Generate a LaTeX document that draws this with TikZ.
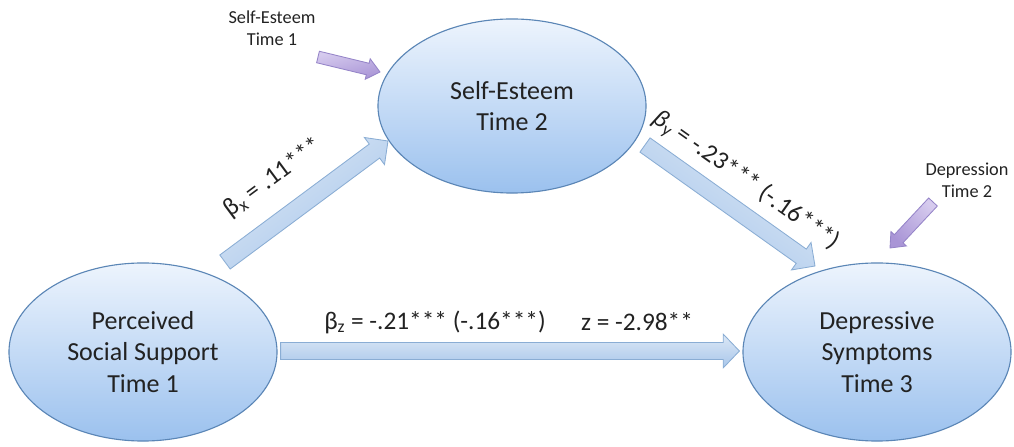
\documentclass[tikz,border=0pt]{standalone}
\usepackage{fontspec}
\setmainfont{Carlito}
\usetikzlibrary{calc,shapes.geometric}
\definecolor{ellline}{HTML}{5B86B6}
\definecolor{elltop}{HTML}{EDF4FD}
\definecolor{ellbot}{HTML}{9BC1EE}
\definecolor{arrline}{HTML}{8AADD4}
\definecolor{arrtop}{HTML}{DCE8F6}
\definecolor{arrbot}{HTML}{A8C6EA}
\definecolor{purline}{HTML}{9584C8}
\definecolor{purtop}{HTML}{D6CBEE}
\definecolor{purbot}{HTML}{A995D6}
\definecolor{txt}{HTML}{222222}
% block arrow: [style]{from}{to}{shaft half width}{head half width}{head length}
\newcommand{\blockarrow}[6][]{%
  \coordinate (hb) at ($(#3)!#6!(#2)$);
  \draw[#1] ($(#2)!#4!90:(#3)$) -- ($(hb)!#4!90:(#3)$) -- ($(hb)!#5!90:(#3)$) -- (#3)
    -- ($(hb)!#5!-90:(#3)$) -- ($(hb)!#4!-90:(#3)$) -- ($(#2)!#4!-90:(#3)$) -- cycle;
}
\begin{document}
\begin{tikzpicture}[x=0.025cm,y=0.025cm,
  ell/.style={ellipse,draw=ellline,line width=0.8pt,top color=elltop,bottom color=ellbot,
    minimum width=6.7cm,minimum height=4.45cm,align=center,text=txt,
    font=\fontsize{18.5}{22.5}\selectfont},
  lbl/.style={text=txt,font=\fontsize{18}{21}\selectfont},
  note/.style={align=center,text=txt,font=\fontsize{13}{15.6}\selectfont},
  bluearr/.style={draw=arrline,line width=0.6pt,top color=arrtop,bottom color=arrbot},
  purarr/.style={draw=purline,line width=0.6pt,top color=purtop,bottom color=purbot}]
\useasboundingbox (0,0) rectangle (1014,447);
\node[ell,minimum height=4.35cm] (se) at (512,341) {Self-Esteem\\Time 2};
\node[ell] (pss) at (143,95) {Perceived\\Social Support\\Time 1};
\node[ell] (ds) at (877,95) {Depressive\\Symptoms\\Time 3};
\node[note] (se1) at (272,419) {Self-Esteem\\Time 1};
\node[note] (dt2) at (967,267) {Depression\\Time 2};

\coordinate (xa) at ($(pss)+(82,90)$);
\coordinate (xb) at ($(se)+(-124,-35)$);
\coordinate (ya) at ($(se)+(133,-39)$);
\coordinate (yb) at ($(ds)+(-62,86)$);
\coordinate (za) at ($(pss.east)+(3,1)$);
\coordinate (zb) at ($(ds.west)+(-3,1)$);
\coordinate (pa) at ($(se1)+(46,-29)$);
\coordinate (pb) at ($(se)+(-132,34)$);
\coordinate (qa) at ($(dt2)+(-34,-22)$);
\coordinate (qb) at ($(ds)+(13,104)$);

\blockarrow[bluearr,shading angle=36.6]{xa}{xb}{6.2pt}{12pt}{12pt}
\blockarrow[bluearr,shading angle=-35.4]{ya}{yb}{6.2pt}{12pt}{12pt}
\blockarrow[bluearr]{za}{zb}{6pt}{12pt}{11.5pt}
\blockarrow[purarr,shading angle=14]{pa}{pb}{4.2pt}{7.5pt}{9pt}
\blockarrow[purarr,shading angle=-47]{qa}{qb}{4.2pt}{7.5pt}{9pt}

\node[lbl,rotate=36.6] (bxl) at (273,269) {β\textsubscript{x} = .11***};
\node[lbl,rotate=-35.4] (byl) at (746,266) {\textit{β}\textsubscript{y} = -.23*** (-.16***)};
\node[lbl] (bzl) at (435,125) {β\textsubscript{z} = -.21*** (-.16***)};
\node[lbl] (zl) at (637,125) {z = -2.98**};
\end{tikzpicture}
\end{document}
